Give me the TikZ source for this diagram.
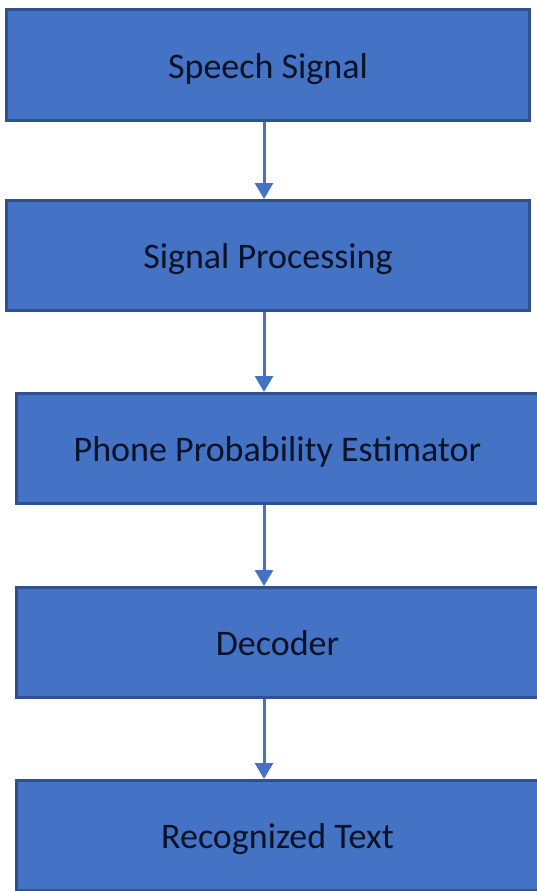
\documentclass[tikz,border=0pt]{standalone}
\usepackage{fontspec}
\setmainfont{Carlito}
\usetikzlibrary{arrows.meta}
\definecolor{boxfill}{HTML}{4472C4}
\definecolor{boxline}{HTML}{2F528F}
\definecolor{boxtext}{RGB}{10,18,38}
\begin{document}
\begin{tikzpicture}[x=1pt, y=-1pt,
    stage/.style={draw=boxline, fill=boxfill, line width=3pt, inner sep=0pt,
        minimum width=523pt, minimum height=110pt,
        text height=26pt, text depth=0pt,
        text=boxtext, font=\fontsize{36}{40}\selectfont},
    flow/.style={draw=boxfill, line width=3pt,
        -{Triangle[width=18pt,length=16pt]}}]
    \useasboundingbox (0,0) rectangle (537,891);
    \clip (0,0) rectangle (537,891);

    \node[stage] (signal) at (268,65) {Speech Signal};
    \node[stage] (proc) at (268,255.5) {Signal Processing};
    \node[stage] (phone) at (277.5,448.5) {Phone Probability Estimator};
    \node[stage] (dec) at (277.5,642.5) {Decoder};
    \node[stage] (text) at (277.5,835.5) {Recognized Text};

    \coordinate (ax) at (264,0);
    \draw[flow] (signal.south -| ax) -- (proc.north -| ax);
    \draw[flow] (proc.south -| ax) -- (phone.north -| ax);
    \draw[flow] (phone.south -| ax) -- (dec.north -| ax);
    \draw[flow] (dec.south -| ax) -- (text.north -| ax);

\end{tikzpicture}
\end{document}
